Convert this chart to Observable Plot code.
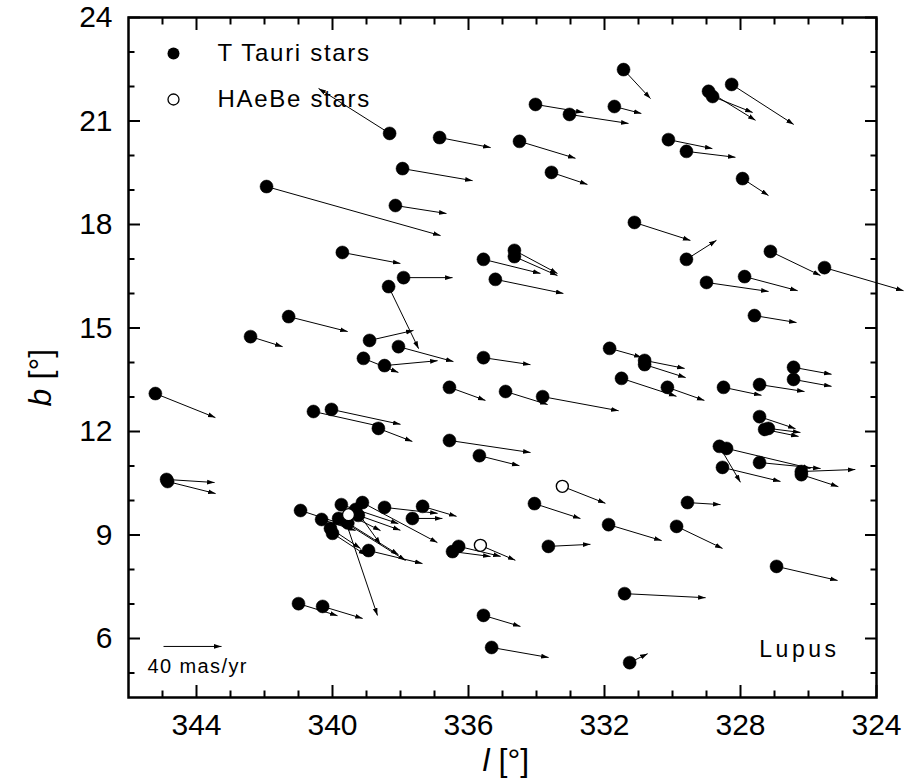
<!DOCTYPE html>
<html>
<head>
<meta charset="utf-8">
<script src="https://cdn.jsdelivr.net/npm/d3@7"></script>
<script src="https://cdn.jsdelivr.net/npm/@observablehq/plot@0.6"></script>
<style>
  html, body { margin: 0; padding: 0; background: #fff; }
  #chart { width: 904px; height: 778px; }
</style>
</head>
<body>
<div id="chart"></div>
<script>
// Galactic longitude / latitude of each star (deg)
const starL = [338.32,336.85,337.94,334.03,334.50,333.56,331.44,333.03,331.71,330.12,
  329.59,328.94,328.82,328.26,327.94,341.94,338.15,331.12,329.59,327.12,
  327.88,329.00,325.53,327.59,334.65,334.65,335.56,335.21,339.71,337.91,
  338.35,341.29,342.41,338.91,338.06,338.47,339.09,335.56,336.56,334.91,
  333.82,331.50,331.85,330.82,330.82,330.15,328.50,327.44,326.44,326.44,
  345.21,340.56,340.03,338.65,336.56,327.44,327.29,327.18,328.62,328.41,
  328.53,327.44,326.21,326.21,335.68,333.24,344.88,344.85,334.06,331.88,
  329.88,329.56,333.65,335.65,336.29,336.47,326.94,331.41,335.56,335.32,
  331.26,341.00,340.29,338.47,337.35,337.65,338.94,340.94,340.32,339.74,
  339.12,339.53,340.06,339.82,339.62,339.32,339.24,340.00,339.55];
const starB = [20.64,20.52,19.62,21.48,20.41,19.51,22.49,21.19,21.42,20.46,
  20.12,21.86,21.71,22.06,19.33,19.10,18.55,18.06,16.99,17.22,
  16.49,16.32,16.75,15.36,17.25,17.07,16.99,16.41,17.19,16.46,
  16.20,15.33,14.75,14.64,14.46,13.91,14.12,14.14,13.28,13.16,
  13.01,13.54,14.41,14.06,13.94,13.28,13.28,13.36,13.86,13.51,
  13.10,12.58,12.64,12.09,11.74,12.43,12.06,12.09,11.57,11.51,
  10.96,11.10,10.84,10.75,11.30,10.41,10.61,10.55,9.91,9.30,
  9.25,9.94,8.67,8.70,8.67,8.52,8.09,7.30,6.67,5.74,
  5.30,7.01,6.93,9.80,9.83,9.48,8.55,9.71,9.45,9.88,
  9.94,9.59,9.19,9.48,9.42,9.74,9.57,9.05,9.35];
// Proper motions (mas/yr): mu_l (towards larger l) and mu_b
const pmL = [49.0,-35.2,-48.3,-33.1,-38.6,-24.8,-18.6,-40.7,-18.6,-30.3,
  -33.8,-32.4,-27.6,-42.8,-17.9,-120.0,-35.2,-38.6,-20.7,-34.5,
  -36.6,-42.8,-54.5,-29.0,-29.7,-29.7,-39.3,-46.9,-40.0,-33.8,
  -20.7,-40.7,-22.1,-30.3,-37.9,-36.6,-24.1,-32.4,-24.8,-29.0,
  -52.4,-37.9,-22.1,-27.6,-28.3,-25.5,-26.2,-31.0,-26.2,-26.2,
  -41.4,-46.2,-47.6,-23.4,-55.9,-24.8,-23.4,-22.1,-14.5,-57.9,
  -40.0,-42.1,-37.2,-25.5,-27.6,-29.7,-33.1,-33.1,-31.7,-36.6,
  -31.7,-22.8,-29.0,-24.1,-29.0,-26.2,-42.1,-55.9,-25.5,-39.3,
  -12.4,-26.9,-27.6,-36.6,-23.4,-20.7,-37.2,-27.6,-23.4,-39.3,
  -51.7,-22.1,-20.7,-46.2,-22.1,-17.2,-29.0,-23.0,-35.0];
const pmB = [31.0,-6.9,-8.3,-5.5,-11.7,-8.3,-20.0,-6.2,-4.8,-6.2,
  -4.1,-20.0,-11.0,-27.6,-11.7,-33.8,-5.5,-12.4,13.1,-16.6,
  -9.7,-6.2,-15.9,-4.8,-15.9,-13.1,-9.7,-9.7,-7.6,0,
  -42.8,-10.3,-6.9,6.9,-10.3,3.4,-9.7,-4.8,-9.0,-9.0,
  -9.7,-12.4,-6.2,-5.5,-9.0,-9.0,-5.5,-4.8,-4.8,-4.8,
  -16.6,-10.3,-10.3,-9.0,-8.3,-8.3,-4.8,-2.8,-24.8,-13.8,
  -9.7,-4.1,1.4,-8.3,-6.9,-11.7,-2.1,-8.3,-10.3,-11.0,
  -15.2,-1.4,1.4,-10.3,-6.9,-3.4,-9.7,-2.8,-7.6,-6.9,
  6.2,-8.3,-8.3,-4.1,-6.9,0,-9.0,-9.0,-7.6,-13.1,
  -27.6,-11.0,-13.8,-29.0,-65.5,-24.1,-10.3,-15.0,-22.0];
// T = T Tauri star, H = HAeBe star
const kind = "TTTTTTTTTTTTTTTTTTTTTTTTTTTTTTTTTTTTTTTTTTTTTTTTTTTTTTTTTTTTTTTTTHTTTTTTTHTTTTTTTTTTTTTTTTTHTTTTTTT".split("");

const xMajor = [344, 340, 336, 332, 328, 324];
const xMinor = [345, 343, 342, 341, 339, 338, 337, 335, 334, 333, 331, 330, 329, 327, 326, 325];
const yMajor = [6, 9, 12, 15, 18, 21, 24];
const yMinor = [5, 7, 8, 10, 11, 13, 14, 16, 17, 19, 20, 22, 23];
const legendLabels = ["T Tauri stars", "HAeBe stars"];
const scaleBar = {l: 344.97, b: 5.77, pm: 40, label: "40 mas/yr"};
const regionName = "Lupus";

// map scale: degrees on the chart per mas/yr of proper motion
const KX = 0.04265, KY = 0.04203;

const rows = starL.map((l, i) => ({l, b: starB[i], pmL: pmL[i], pmB: pmB[i], kind: kind[i]}));

const font = "'Liberation Sans', Arial, Helvetica, sans-serif";

// small filled arrowhead marker
function filledHead(color, context) {
  const ns = "http://www.w3.org/2000/svg";
  const doc = (context && context.document) || document;
  const m = doc.createElementNS(ns, "marker");
  m.setAttribute("viewBox", "-7.5 -3 8 6");
  m.setAttribute("markerWidth", "8");
  m.setAttribute("markerHeight", "6");
  m.setAttribute("markerUnits", "userSpaceOnUse");
  m.setAttribute("orient", "auto");
  m.setAttribute("refX", "0");
  m.setAttribute("refY", "0");
  const p = doc.createElementNS(ns, "path");
  p.setAttribute("d", "M-7.5,-2.4L0,0L-7.5,2.4Z");
  p.setAttribute("fill", color === "currentColor" ? "black" : color);
  p.setAttribute("stroke", "none");
  m.appendChild(p);
  return m;
}

function vectorMarks(useMarker) {
  const x2 = d => d.l + d.pmL * KX, y2 = d => d.b + d.pmB * KY;
  const sx2 = d => d.l - d.pm * KX;
  if (useMarker) {
    return [
      Plot.link(rows, {x1: "l", y1: "b", x2, y2, stroke: "black", strokeWidth: 1, markerEnd: filledHead}),
      Plot.link([scaleBar], {x1: "l", y1: "b", x2: sx2, y2: "b", stroke: "black", strokeWidth: 1, markerEnd: filledHead})
    ];
  }
  return [
    Plot.arrow(rows, {x1: "l", y1: "b", x2, y2, stroke: "black", strokeWidth: 1, headLength: 7, headAngle: 40}),
    Plot.arrow([scaleBar], {x1: "l", y1: "b", x2: sx2, y2: "b", stroke: "black", strokeWidth: 1, headLength: 7, headAngle: 40})
  ];
}

function build(useMarker) {
  const [vecs, bar] = vectorMarks(useMarker);
  return Plot.plot({
    width: 904,
    height: 778,
    marginLeft: 128,
    marginRight: 28,
    marginTop: 17,
    marginBottom: 81,
    style: {fontFamily: font, background: "white", color: "black"},
    x: {domain: [346, 324]},
    y: {domain: [4.29, 24]},
    marks: [
      // axes with inward ticks on all four sides
      Plot.axisX(xMajor, {anchor: "bottom", tickSize: -12, tickPadding: 28, fontSize: 30, strokeWidth: 2, label: null}),
      Plot.axisX(xMinor, {anchor: "bottom", tickSize: -6.5, strokeWidth: 2, tickFormat: () => "", label: null}),
      Plot.axisX(xMajor, {anchor: "top", tickSize: -12, strokeWidth: 2, tickFormat: () => "", label: null}),
      Plot.axisX(xMinor, {anchor: "top", tickSize: -6.5, strokeWidth: 2, tickFormat: () => "", label: null}),
      Plot.axisY(yMajor, {anchor: "left", tickSize: -12, tickPadding: 28, fontSize: 30, strokeWidth: 2, label: null}),
      Plot.axisY(yMinor, {anchor: "left", tickSize: -6.5, strokeWidth: 2, tickFormat: () => "", label: null}),
      Plot.axisY(yMajor, {anchor: "right", tickSize: -12, strokeWidth: 2, tickFormat: () => "", label: null}),
      Plot.axisY(yMinor, {anchor: "right", tickSize: -6.5, strokeWidth: 2, tickFormat: () => "", label: null}),
      Plot.frame({stroke: "black", strokeWidth: 2.5}),

      // proper motion vectors and stars
      vecs,
      Plot.dot(rows.filter(d => d.kind === "T"), {x: "l", y: "b", r: 6.5, fill: "black", stroke: "black", strokeWidth: 0.5}),
      Plot.dot(rows.filter(d => d.kind === "H"), {x: "l", y: "b", r: 6, fill: "white", stroke: "black", strokeWidth: 1.4}),

      // legend
      Plot.dot([legendLabels[0]], {frameAnchor: "top-left", dx: 45, dy: 36, r: 6, fill: "black"}),
      Plot.dot([legendLabels[1]], {frameAnchor: "top-left", dx: 45, dy: 82, r: 5.5, fill: "white", stroke: "black", strokeWidth: 1.3}),
      Plot.text([legendLabels[0]], {frameAnchor: "top-left", dx: 89, dy: 36, text: d => d, textAnchor: "start", lineAnchor: "middle", fontSize: 24, fill: "black"}),
      Plot.text([legendLabels[1]], {frameAnchor: "top-left", dx: 89, dy: 82, text: d => d, textAnchor: "start", lineAnchor: "middle", fontSize: 24, fill: "black"}),

      // scale bar
      bar,
      Plot.text([scaleBar], {frameAnchor: "bottom-left", dx: 19, dy: -31, text: "label", textAnchor: "start", lineAnchor: "middle", fontSize: 20, fill: "black"}),

      // region name
      Plot.text([regionName], {frameAnchor: "bottom-right", dx: -37, dy: -48, text: d => d, textAnchor: "end", lineAnchor: "middle", fontSize: 23, fill: "black"}),

      // axis titles
      Plot.text(["l"], {frameAnchor: "bottom", dx: -20, dy: 63, text: d => d, textAnchor: "start", lineAnchor: "middle", fontSize: 32, fontStyle: "italic", fill: "black"}),
      Plot.text(["[°]"], {frameAnchor: "bottom", dx: -4, dy: 63, text: d => d, textAnchor: "start", lineAnchor: "middle", fontSize: 32, fill: "black"}),
      Plot.text(["b"], {frameAnchor: "left", dx: -88, dy: 49, text: d => d, textAnchor: "start", lineAnchor: "middle", rotate: -90, fontSize: 32, fontStyle: "italic", fill: "black"}),
      Plot.text(["[°]"], {frameAnchor: "left", dx: -88, dy: 22, text: d => d, textAnchor: "start", lineAnchor: "middle", rotate: -90, fontSize: 32, fill: "black"})
    ]
  });
}

let chart;
try {
  chart = build(true);
  if (!chart.querySelector("marker")) throw new Error("no marker");
} catch (e) {
  chart = build(false);
}
document.getElementById("chart").appendChild(chart);

// letter spacing of the annotation texts (style only)
d3.select(chart).selectAll("text").each(function() {
  const t = this.textContent;
  if (t === legendLabels[0] || t === legendLabels[1]) this.setAttribute("letter-spacing", "1.7");
  else if (t === scaleBar.label) this.setAttribute("letter-spacing", "1.4");
  else if (t === regionName) this.setAttribute("letter-spacing", "3.5");
});
</script>
</body>
</html>
